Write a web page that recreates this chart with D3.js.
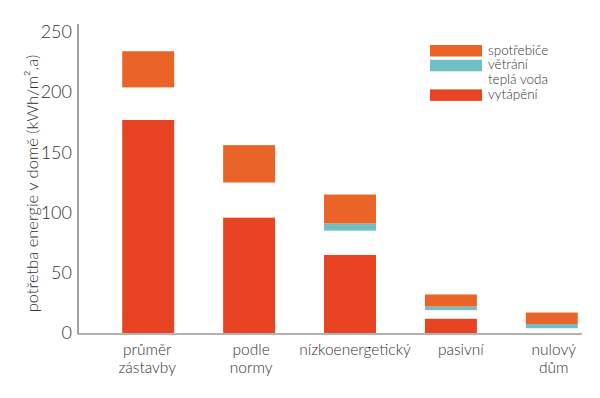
<!DOCTYPE html>
<html lang="cs">
<head>
<meta charset="UTF-8">
<title>Potřeba energie v domě</title>
<style>
  body { margin: 0; background: #fff; }
  svg text { font-family: Lato, "Open Sans", sans-serif; font-weight: 300; fill: #333; }
</style>
</head>
<body>
<div id="chart"></div>
<script src="https://d3js.org/d3.v7.min.js"></script>
<script>
// data
const categories = [["průměr", "zástavby"], ["podle", "normy"], ["nízkoenergetický"], ["pasivní"], ["nulový", "dům"]];
const heating     = [177, 96, 65, 12, 0];
const hotWater    = [27, 29, 20, 7, 4];
const ventilation = [0, 0, 6, 3, 3.5];
const appliances  = [30, 31, 24, 10, 9.5];
const yTicks = [0, 50, 100, 150, 200, 250];

const seriesNames = ["vytápění", "teplá voda", "větrání", "spotřebiče"];
const seriesColors = ["#e84322", "#ffffff", "#71bfc5", "#ea6427"];

const rows = categories.map((c, i) => ({
  cat: c.join(" "),
  "vytápění": heating[i],
  "teplá voda": hotWater[i],
  "větrání": ventilation[i],
  "spotřebiče": appliances[i]
}));

const width = 600, height = 398;
const margin = { left: 78, right: 18, top: 32, bottom: 64 };

const svg = d3.select("#chart").append("svg")
  .attr("width", width)
  .attr("height", height);

const x = d3.scaleBand()
  .domain(rows.map(d => d.cat))
  .range([margin.left + 18, width - margin.right + 22])
  .paddingInner(0.485)
  .paddingOuter(0.26);

const y = d3.scaleLinear()
  .domain([0, 250])
  .range([height - margin.bottom - 1, margin.top]);

const stack = d3.stack().keys(seriesNames)(rows);
const color = d3.scaleOrdinal().domain(seriesNames).range(seriesColors);

// bars
svg.append("g").selectAll("g")
  .data(stack)
  .join("g")
    .attr("fill", d => color(d.key))
  .selectAll("rect")
  .data(d => d)
  .join("rect")
    .attr("x", d => x(d.data.cat))
    .attr("y", d => y(d[1]))
    .attr("width", x.bandwidth())
    .attr("height", d => y(d[0]) - y(d[1]));

// axes
svg.append("line")
  .attr("x1", margin.left).attr("x2", margin.left)
  .attr("y1", 24).attr("y2", y(0) + 1)
  .attr("stroke", "#666").attr("stroke-width", 1.2);
svg.append("line")
  .attr("x1", margin.left).attr("x2", 582)
  .attr("y1", y(0) + 1).attr("y2", y(0) + 1)
  .attr("stroke", "#666").attr("stroke-width", 1.2);

const yAxis = svg.append("g")
  .attr("transform", `translate(${margin.left},0)`)
  .call(d3.axisLeft(y).tickValues(yTicks).tickSize(0).tickPadding(6));
yAxis.select(".domain").remove();
yAxis.selectAll("text")
  .style("font-size", "18px")
  .style("font-family", "Lato, sans-serif")
  .style("font-weight", 300)
  .attr("fill", "#333");

// y label
svg.append("text")
  .attr("transform", `translate(38,${(50 + 317) / 2}) rotate(-90)`)
  .attr("text-anchor", "middle")
  .style("font-size", "16.5px")
  .text("potřetba energie v domě (kWh/m²")
  .append("tspan").text(".a)");

// x labels, one text per line
const xl = svg.append("g").selectAll("g")
  .data(rows)
  .join("g")
    .attr("transform", (d, i) =>
      `translate(${x(d.cat) + x.bandwidth() / 2 + [-1, 2, 5, 10, 2][i]},355)`);
xl.each(function(d, i) {
  const g = d3.select(this);
  categories[i].forEach((line, j) => {
    g.append("text")
      .attr("text-anchor", "middle")
      .attr("y", j * 17.5)
      .style("font-size", "15.5px")
      .text(line);
  });
});

// legend
const legendItems = ["spotřebiče", "větrání", "teplá voda", "vytápění"];
const legend = svg.append("g").attr("transform", "translate(430,45)");
legendItems.forEach((name, i) => {
  const g = legend.append("g").attr("transform", `translate(0,${i * 14.8})`);
  g.append("rect")
    .attr("width", 52).attr("height", 11.5)
    .attr("fill", color(name));
  g.append("text")
    .attr("x", 58).attr("y", 9.5)
    .style("font-size", "13.5px")
    .text(name);
});
</script>
</body>
</html>
